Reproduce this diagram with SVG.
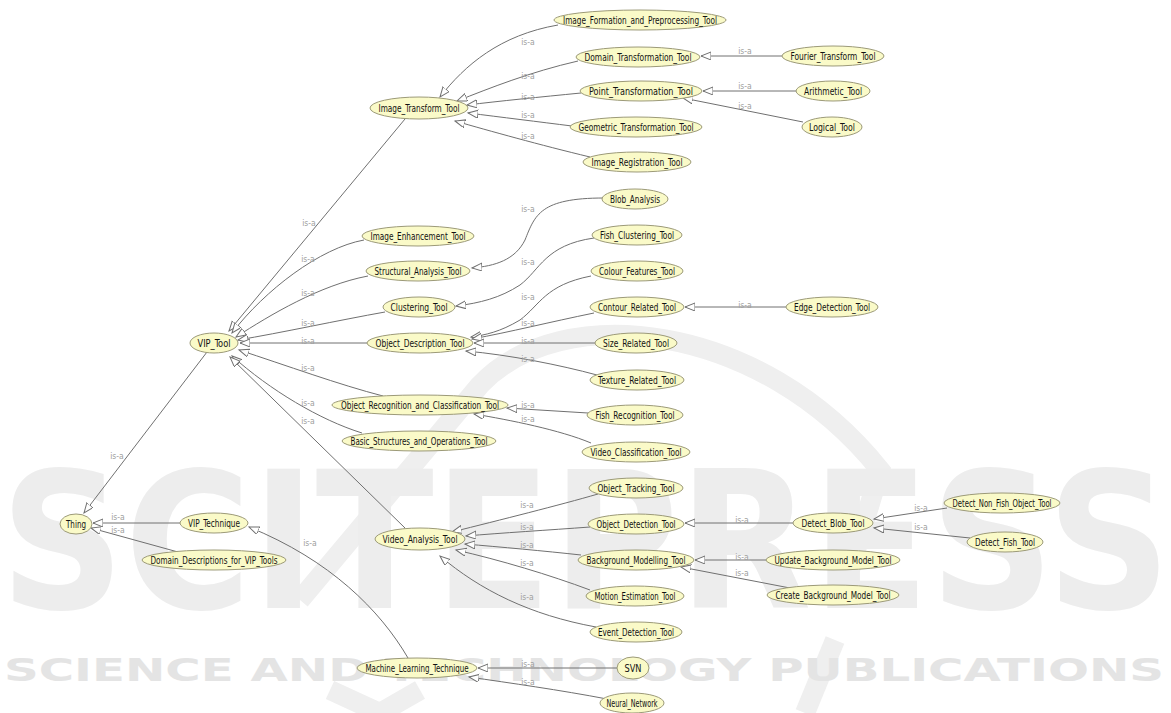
<svg xmlns="http://www.w3.org/2000/svg" width="1171" height="713" viewBox="0 0 1171 713">
<style>
.n ellipse{fill:#fafac8;stroke:#9c9a78;stroke-width:1}
.n text{font-family:"DejaVu Sans Condensed","Liberation Sans Narrow","Liberation Sans",sans-serif;font-size:11px;fill:#111111;text-anchor:middle;dominant-baseline:central}
#edges path{fill:none;stroke:#707070;stroke-width:1;marker-end:url(#tri)}
#edges text{font-family:"DejaVu Sans Condensed","Liberation Sans",sans-serif;font-size:8.5px;fill:#a0a0a0;text-anchor:middle}
.wm{fill:#ededed;font-family:"DejaVu Sans","Liberation Sans",sans-serif;font-weight:bold}
.wl{fill:none;stroke:#efefef;stroke-width:20}
</style>
<defs>
<marker id="tri" markerUnits="userSpaceOnUse" markerWidth="12" markerHeight="10" refX="10" refY="4" orient="auto">
<path d="M0,0 L10,4 L0,8 Z" fill="#ffffff" stroke="#707070" stroke-width="1"/>
</marker>
</defs>
<rect width="1171" height="713" fill="#ffffff"/>
<g id="watermark">
<path class="wl" d="M300,600 L480,385 C560,300 760,320 880,470 L850,570"/>
<path class="wl" d="M835,640 L805,713"/>
<path class="wl" d="M330,690 L380,713 L420,690"/>
<text class="wm" x="0" y="608" font-size="190" textLength="1171" lengthAdjust="spacingAndGlyphs">SCITEPRESS</text>
<text class="wm" x="4" y="681" font-size="32" textLength="1160" lengthAdjust="spacingAndGlyphs" style="fill:#e4e4e4">SCIENCE AND TECHNOLOGY PUBLICATIONS</text>
</g>
<g id="edges">
<path d="M558,25 C500,35 465,65 440,97"/><text x="528" y="45">is-a</text>
<path d="M578,61 C530,72 490,88 457,101"/><text x="528" y="79">is-a</text>
<path d="M581,93 C540,97 500,101 467,105"/><text x="528" y="100">is-a</text>
<path d="M572,126 C540,122 500,117 468,113"/><text x="528" y="118">is-a</text>
<path d="M590,157 C540,145 490,131 455,121"/><text x="528" y="139">is-a</text>
<path d="M782,56 L701,56"/><text x="745" y="54">is-a</text>
<path d="M797,91 L703,91"/><text x="745" y="89">is-a</text>
<path d="M803,122 L683,98"/><text x="745" y="109">is-a</text>
<path d="M405,119 L229,331"/><text x="309" y="226">is-a</text>
<path d="M364,240 C320,248 265,290 232,333"/><text x="308" y="262">is-a</text>
<path d="M368,276 C320,285 270,315 236,337"/><text x="308" y="296">is-a</text>
<path d="M385,312 C340,320 280,333 238,340"/><text x="308" y="326">is-a</text>
<path d="M367,343 L240,343"/><text x="308" y="344">is-a</text>
<path d="M383,396 C340,385 285,365 239,350"/><text x="308" y="371">is-a</text>
<path d="M362,433 C320,420 270,390 232,356"/><text x="308" y="406">is-a</text>
<path d="M405,528 L230,357"/><text x="308" y="424">is-a</text>
<path d="M207,352 L84,513"/><text x="117" y="459">is-a</text>
<path d="M180,523 L93,523"/><text x="118" y="520">is-a</text>
<path d="M178,552 L91,528"/><text x="118" y="533">is-a</text>
<path d="M408,658 C380,610 330,560 249,527"/><text x="310" y="546">is-a</text>
<path d="M604,198 C540,198 535,215 525,240 C515,260 495,266 472,268"/><text x="528" y="212">is-a</text>
<path d="M594,238 C545,245 540,270 520,285 C500,298 480,303 456,306"/><text x="528" y="265">is-a</text>
<path d="M591,276 C545,285 540,305 520,320 C500,332 485,335 471,337"/><text x="528" y="300">is-a</text>
<path d="M594,313 C550,322 510,332 472,339"/><text x="528" y="326">is-a</text>
<path d="M595,343 L474,343"/><text x="528" y="344">is-a</text>
<path d="M597,375 C560,365 510,355 466,351"/><text x="528" y="362">is-a</text>
<path d="M786,307 L685,307"/><text x="745" y="308">is-a</text>
<path d="M588,413 L507,408"/><text x="528" y="408">is-a</text>
<path d="M591,443 C560,430 510,420 474,414"/><text x="528" y="422">is-a</text>
<path d="M598,494 C560,505 500,520 452,532"/><text x="527" y="508">is-a</text>
<path d="M590,527 C550,530 500,533 466,536"/><text x="527" y="530">is-a</text>
<path d="M581,555 C545,551 500,547 465,544"/><text x="527" y="548">is-a</text>
<path d="M590,590 C550,575 500,560 456,550"/><text x="527" y="566">is-a</text>
<path d="M596,627 C530,615 480,590 440,556"/><text x="527" y="600">is-a</text>
<path d="M793,523 L685,523"/><text x="742" y="523">is-a</text>
<path d="M947,508 L874,519"/><text x="921" y="511">is-a</text>
<path d="M970,538 L874,528"/><text x="921" y="530">is-a</text>
<path d="M766,560 L695,560"/><text x="742" y="560">is-a</text>
<path d="M790,588 L681,567"/><text x="742" y="576">is-a</text>
<path d="M617,668 L478,668"/><text x="528" y="667">is-a</text>
<path d="M607,699 C560,690 510,683 469,677"/><text x="528" y="685">is-a</text>
</g>
<g id="Thing" class="n"><ellipse cx="76" cy="524" rx="16" ry="10"/><text x="76" y="524" textLength="20" lengthAdjust="spacingAndGlyphs">Thing</text></g>
<g id="VIP_Technique" class="n"><ellipse cx="214" cy="523" rx="34" ry="10"/><text x="214" y="523" textLength="52" lengthAdjust="spacingAndGlyphs">VIP_Technique</text></g>
<g id="Domain_Descriptions_for_VIP_Tools" class="n"><ellipse cx="214" cy="560" rx="72" ry="10"/><text x="214" y="560" textLength="127" lengthAdjust="spacingAndGlyphs">Domain_Descriptions_for_VIP_Tools</text></g>
<g id="VIP_Tool" class="n"><ellipse cx="214" cy="343" rx="24" ry="10"/><text x="214" y="343" textLength="33" lengthAdjust="spacingAndGlyphs">VIP_Tool</text></g>
<g id="Image_Transform_Tool" class="n"><ellipse cx="419" cy="108" rx="49" ry="11"/><text x="419" y="108" textLength="81" lengthAdjust="spacingAndGlyphs">Image_Transform_Tool</text></g>
<g id="Image_Formation_and_Preprocessing_Tool" class="n"><ellipse cx="640" cy="20" rx="86" ry="10"/><text x="640" y="20" textLength="154" lengthAdjust="spacingAndGlyphs">Image_Formation_and_Preprocessing_Tool</text></g>
<g id="Domain_Transformation_Tool" class="n"><ellipse cx="638" cy="57" rx="62" ry="10"/><text x="638" y="57" textLength="107" lengthAdjust="spacingAndGlyphs">Domain_Transformation_Tool</text></g>
<g id="Fourier_Transform_Tool" class="n"><ellipse cx="833" cy="56" rx="51" ry="10"/><text x="833" y="56" textLength="85" lengthAdjust="spacingAndGlyphs">Fourier_Transform_Tool</text></g>
<g id="Point_Transformation_Tool" class="n"><ellipse cx="641" cy="91" rx="61" ry="10"/><text x="641" y="91" textLength="104" lengthAdjust="spacingAndGlyphs">Point_Transformation_Tool</text></g>
<g id="Arithmetic_Tool" class="n"><ellipse cx="833" cy="91" rx="37" ry="10"/><text x="833" y="91" textLength="58" lengthAdjust="spacingAndGlyphs">Arithmetic_Tool</text></g>
<g id="Logical_Tool" class="n"><ellipse cx="832" cy="127" rx="30" ry="10"/><text x="832" y="127" textLength="46" lengthAdjust="spacingAndGlyphs">Logical_Tool</text></g>
<g id="Geometric_Transformation_Tool" class="n"><ellipse cx="636" cy="127" rx="66" ry="10"/><text x="636" y="127" textLength="115" lengthAdjust="spacingAndGlyphs">Geometric_Transformation_Tool</text></g>
<g id="Image_Registration_Tool" class="n"><ellipse cx="637" cy="162" rx="54" ry="10"/><text x="637" y="162" textLength="91" lengthAdjust="spacingAndGlyphs">Image_Registration_Tool</text></g>
<g id="Image_Enhancement_Tool" class="n"><ellipse cx="418" cy="236" rx="56" ry="10"/><text x="418" y="236" textLength="95" lengthAdjust="spacingAndGlyphs">Image_Enhancement_Tool</text></g>
<g id="Structural_Analysis_Tool" class="n"><ellipse cx="418" cy="271" rx="52" ry="10"/><text x="418" y="271" textLength="87" lengthAdjust="spacingAndGlyphs">Structural_Analysis_Tool</text></g>
<g id="Clustering_Tool" class="n"><ellipse cx="419" cy="307" rx="36" ry="10"/><text x="419" y="307" textLength="57" lengthAdjust="spacingAndGlyphs">Clustering_Tool</text></g>
<g id="Object_Description_Tool" class="n"><ellipse cx="420" cy="343" rx="53" ry="10"/><text x="420" y="343" textLength="89" lengthAdjust="spacingAndGlyphs">Object_Description_Tool</text></g>
<g id="Blob_Analysis" class="n"><ellipse cx="635" cy="199" rx="33" ry="10"/><text x="635" y="199" textLength="50" lengthAdjust="spacingAndGlyphs">Blob_Analysis</text></g>
<g id="Fish_Clustering_Tool" class="n"><ellipse cx="637" cy="235" rx="45" ry="10"/><text x="637" y="235" textLength="74" lengthAdjust="spacingAndGlyphs">Fish_Clustering_Tool</text></g>
<g id="Colour_Features_Tool" class="n"><ellipse cx="637" cy="271" rx="46" ry="10"/><text x="637" y="271" textLength="76" lengthAdjust="spacingAndGlyphs">Colour_Features_Tool</text></g>
<g id="Contour_Related_Tool" class="n"><ellipse cx="637" cy="307" rx="47" ry="10"/><text x="637" y="307" textLength="78" lengthAdjust="spacingAndGlyphs">Contour_Related_Tool</text></g>
<g id="Edge_Detection_Tool" class="n"><ellipse cx="832" cy="307" rx="46" ry="10"/><text x="832" y="307" textLength="76" lengthAdjust="spacingAndGlyphs">Edge_Detection_Tool</text></g>
<g id="Size_Related_Tool" class="n"><ellipse cx="636" cy="343" rx="41" ry="10"/><text x="636" y="343" textLength="66" lengthAdjust="spacingAndGlyphs">Size_Related_Tool</text></g>
<g id="Texture_Related_Tool" class="n"><ellipse cx="637" cy="380" rx="47" ry="10"/><text x="637" y="380" textLength="78" lengthAdjust="spacingAndGlyphs">Texture_Related_Tool</text></g>
<g id="Object_Recognition_and_Classification_Tool" class="n"><ellipse cx="420" cy="405" rx="88" ry="10"/><text x="420" y="405" textLength="158" lengthAdjust="spacingAndGlyphs">Object_Recognition_and_Classification_Tool</text></g>
<g id="Fish_Recognition_Tool" class="n"><ellipse cx="635" cy="415" rx="48" ry="10"/><text x="635" y="415" textLength="79" lengthAdjust="spacingAndGlyphs">Fish_Recognition_Tool</text></g>
<g id="Basic_Structures_and_Operations_Tool" class="n"><ellipse cx="419" cy="441" rx="77" ry="10"/><text x="419" y="441" textLength="137" lengthAdjust="spacingAndGlyphs">Basic_Structures_and_Operations_Tool</text></g>
<g id="Video_Classification_Tool" class="n"><ellipse cx="636" cy="452" rx="54" ry="10"/><text x="636" y="452" textLength="91" lengthAdjust="spacingAndGlyphs">Video_Classification_Tool</text></g>
<g id="Object_Tracking_Tool" class="n"><ellipse cx="636" cy="488" rx="47" ry="10"/><text x="636" y="488" textLength="77" lengthAdjust="spacingAndGlyphs">Object_Tracking_Tool</text></g>
<g id="Object_Detection_Tool" class="n"><ellipse cx="636" cy="524" rx="48" ry="10"/><text x="636" y="524" textLength="79" lengthAdjust="spacingAndGlyphs">Object_Detection_Tool</text></g>
<g id="Video_Analysis_Tool" class="n"><ellipse cx="420" cy="539" rx="45" ry="11"/><text x="420" y="539" textLength="75" lengthAdjust="spacingAndGlyphs">Video_Analysis_Tool</text></g>
<g id="Background_Modelling_Tool" class="n"><ellipse cx="636" cy="560" rx="58" ry="10"/><text x="636" y="560" textLength="99" lengthAdjust="spacingAndGlyphs">Background_Modelling_Tool</text></g>
<g id="Motion_Estimation_Tool" class="n"><ellipse cx="635" cy="596" rx="49" ry="10"/><text x="635" y="596" textLength="81" lengthAdjust="spacingAndGlyphs">Motion_Estimation_Tool</text></g>
<g id="Event_Detection_Tool" class="n"><ellipse cx="636" cy="632" rx="46" ry="10"/><text x="636" y="632" textLength="76" lengthAdjust="spacingAndGlyphs">Event_Detection_Tool</text></g>
<g id="Detect_Blob_Tool" class="n"><ellipse cx="833" cy="523" rx="40" ry="10"/><text x="833" y="523" textLength="63" lengthAdjust="spacingAndGlyphs">Detect_Blob_Tool</text></g>
<g id="Detect_Non_Fish_Object_Tool" class="n"><ellipse cx="1002" cy="503" rx="58" ry="10"/><text x="1002" y="503" textLength="99" lengthAdjust="spacingAndGlyphs">Detect_Non_Fish_Object_Tool</text></g>
<g id="Detect_Fish_Tool" class="n"><ellipse cx="1005" cy="542" rx="38" ry="10"/><text x="1005" y="542" textLength="60" lengthAdjust="spacingAndGlyphs">Detect_Fish_Tool</text></g>
<g id="Update_Background_Model_Tool" class="n"><ellipse cx="833" cy="560" rx="67" ry="10"/><text x="833" y="560" textLength="117" lengthAdjust="spacingAndGlyphs">Update_Background_Model_Tool</text></g>
<g id="Create_Background_Model_Tool" class="n"><ellipse cx="833" cy="595" rx="66" ry="10"/><text x="833" y="595" textLength="115" lengthAdjust="spacingAndGlyphs">Create_Background_Model_Tool</text></g>
<g id="Machine_Learning_Technique" class="n"><ellipse cx="417" cy="668" rx="60" ry="10"/><text x="417" y="668" textLength="103" lengthAdjust="spacingAndGlyphs">Machine_Learning_Technique</text></g>
<g id="SVN" class="n"><ellipse cx="633" cy="668" rx="16" ry="11"/><text x="633" y="668" textLength="17" lengthAdjust="spacingAndGlyphs">SVN</text></g>
<g id="Neural_Network" class="n"><ellipse cx="632" cy="703" rx="32" ry="10"/><text x="632" y="703" textLength="51" lengthAdjust="spacingAndGlyphs">Neural_Network</text></g>
</svg>
